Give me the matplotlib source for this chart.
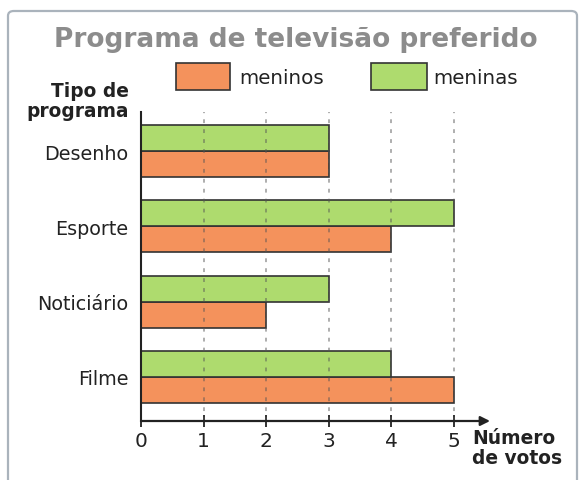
import numpy as np
import matplotlib
matplotlib.use("Agg")
import matplotlib.pyplot as plt
from matplotlib.patches import FancyBboxPatch, Rectangle

plt.rcParams.update({
    "font.family": "sans-serif",
    "font.sans-serif": ["DejaVu Sans"],
})

# data
programas = ["Desenho", "Esporte", "Noticiário", "Filme"]
meninos = [3, 4, 2, 5]
meninas = [3, 5, 3, 4]
x_ticks = [0, 1, 2, 3, 4, 5]

c_meninos = "#f4925c"
c_meninas = "#aedb6e"

W, H = 582, 481
fig = plt.figure(figsize=(W / 100, H / 100), dpi=100)

# frame around the whole chart
frame = FancyBboxPatch((8 / W, -0.05), (577 - 8) / W, (H - 12) / H + 0.05,
                       boxstyle="round,pad=0,rounding_size=0.01",
                       transform=fig.transFigure, fill=False,
                       edgecolor="#aab3bc", lw=1.6, zorder=0)
fig.patches.append(frame)

# axes: origin x=141px, arrow tip ~490px ; y from 113px to 422px
ax = fig.add_axes([141 / W, 1 - 422 / H, (490 - 141) / W, (422 - 113) / H])
ax.set_xlim(0, (490 - 141) / 62.6)
ax.set_ylim(-0.587, 3.52)

ypos = np.arange(len(programas))[::-1]  # Desenho at top
h = 26 / 75
ax.barh(ypos - h / 2, meninos, height=h, color=c_meninos, edgecolor="#333333",
        lw=1.2, zorder=2)
ax.barh(ypos + h / 2, meninas, height=h, color=c_meninas, edgecolor="#333333",
        lw=1.2, zorder=2)

for v in x_ticks[1:]:
    ax.axvline(v, color="#555555", lw=1.1, ls=(0, (2.5, 4)), alpha=0.6, zorder=3)

ax.set_yticks(ypos)
ax.set_yticklabels(programas, fontsize=13.8, color="#222222")
ax.tick_params(axis="y", length=0, pad=9)

ax.set_xticks(x_ticks)
ax.set_xticklabels([str(v) for v in x_ticks], fontsize=14.5, color="#222222")
ax.tick_params(axis="x", direction="inout", length=9, width=1.3, pad=3,
               color="#222222")

for s in ["top", "right", "bottom"]:
    ax.spines[s].set_visible(False)
ax.spines["left"].set_linewidth(1.5)
ax.spines["left"].set_color("#222222")

ax.annotate("", xy=(1.0, 0), xycoords="axes fraction", xytext=(0, 0),
            textcoords="axes fraction",
            arrowprops=dict(arrowstyle="-|>", lw=1.6, color="#222222",
                            mutation_scale=14, shrinkA=0, shrinkB=0))

# title
fig.text(296 / W, 1 - 47 / H, "Programa de televisão preferido", ha="center",
         va="baseline", fontsize=19, fontweight="bold", color="#8c8c8c")

# legend
fig.patches.append(Rectangle((176 / W, 1 - 91 / H), 54 / W, 27 / H,
                             transform=fig.transFigure, facecolor=c_meninos,
                             edgecolor="#333333", lw=1.2))
fig.text(239 / W, 1 - 78 / H, "meninos", ha="left", va="center",
         fontsize=14.3, color="#222222")
fig.patches.append(Rectangle((371 / W, 1 - 91 / H), 56 / W, 27 / H,
                             transform=fig.transFigure, facecolor=c_meninas,
                             edgecolor="#333333", lw=1.2))
fig.text(433 / W, 1 - 78 / H, "meninas", ha="left", va="center",
         fontsize=14.3, color="#222222")

# axis titles
fig.text(129 / W, 1 - 117 / H, "Tipo de\nprograma", ha="right", va="baseline",
         fontsize=13.4, fontweight="bold", color="#222222", linespacing=1.05)
fig.text(472 / W, 1 - 429 / H, "Número\nde votos", ha="left", va="top",
         fontsize=13.4, fontweight="bold", color="#222222", linespacing=1.1)

fig.savefig("out.png", dpi=100, facecolor="white")
